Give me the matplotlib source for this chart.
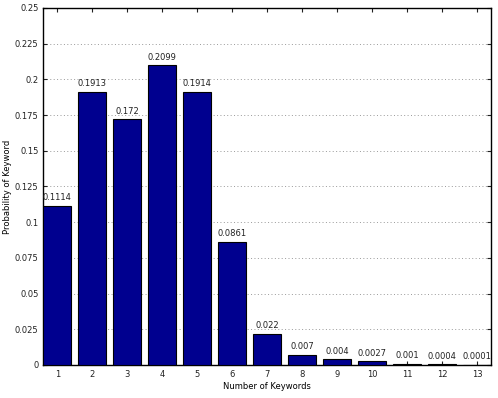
import matplotlib
matplotlib.use("Agg")
import matplotlib.pyplot as plt

categories = [1, 2, 3, 4, 5, 6, 7, 8, 9, 10, 11, 12, 13]
values = [0.1114, 0.1913, 0.172, 0.2099, 0.1914, 0.0861, 0.022, 0.007, 0.004, 0.0027, 0.001, 0.0004, 0.0001]
labels = ["0.1114", "0.1913", "0.172", "0.2099", "0.1914", "0.0861", "0.022", "0.007", "0.004", "0.0027", "0.001", "0.0004", "0.0001"]
yticks = [0, 0.025, 0.05, 0.075, 0.1, 0.125, 0.15, 0.175, 0.2, 0.225, 0.25]
ytick_labels = ["0", "0.025", "0.05", "0.075", "0.1", "0.125", "0.15", "0.175", "0.2", "0.225", "0.25"]

fig = plt.figure(figsize=(4.98, 3.98), dpi=100)
ax = fig.add_axes([0.087, 0.083, 0.899, 0.897])
ax.bar(categories, values, width=0.8, color="#00008F", edgecolor="black", linewidth=0.8, zorder=3)
for x, v, t in zip(categories, values, labels):
    ax.text(x, v + 0.0025, t, ha="center", va="bottom", fontsize=6, color="#222222", clip_on=True, zorder=4)

ax.set_xlim(0.6, 13.4)
ax.set_ylim(0, 0.25)
ax.set_xticks(categories)
ax.set_yticks(yticks)
ax.set_yticklabels(ytick_labels)
ax.yaxis.grid(True, linestyle=(0, (1, 2.5)), color="#999999", linewidth=0.7, zorder=0)
ax.tick_params(axis="both", labelsize=6, direction="in", length=3, top=True, right=True, colors="#222222")
for s in ax.spines.values():
    s.set_linewidth(1.0)
ax.set_xlabel("Number of Keywords", fontsize=6, labelpad=2)
ax.set_ylabel("Probability of Keyword", fontsize=6, labelpad=2)
fig.savefig("out.png", dpi=100)
